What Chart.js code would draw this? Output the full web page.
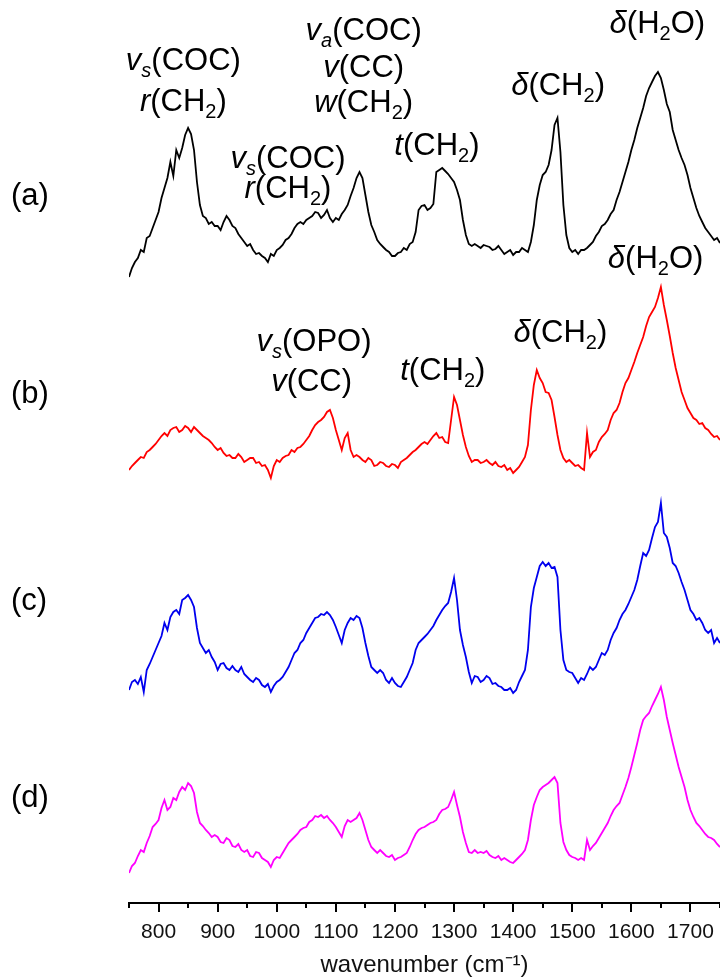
<!DOCTYPE html>
<html>
<head>
<meta charset="utf-8">
<script src="https://cdn.jsdelivr.net/npm/chart.js@4.4.0/dist/chart.umd.min.js"></script>
<style>
  html, body { margin: 0; padding: 0; background: #fff; }
  #wrap { width: 720px; height: 980px; position: relative; }
</style>
</head>
<body>
<div id="wrap"><canvas id="ramanChart"></canvas></div>
<script>
// x sampling of the spectra (cm-1)
const wavenumber = [
  750,755,760,765,770,775,780,785,790,795,800,805,810,815,820,825,830,835,840,845,
  850,855,860,865,870,875,880,885,890,895,900,905,910,915,920,925,930,935,940,945,
  950,955,960,965,970,975,980,985,990,995,1000,1005,1010,1015,1020,1025,1030,1035,1040,1045,
  1050,1055,1060,1065,1070,1075,1080,1085,1090,1095,1100,1105,1110,1115,1120,1125,1130,1135,1140,1145,
  1150,1155,1160,1165,1170,1175,1180,1185,1190,1195,1200,1205,1210,1215,1220,1225,1230,1235,1240,1245,
  1250,1255,1260,1265,1270,1275,1280,1285,1290,1295,1300,1305,1310,1315,1320,1325,1330,1335,1340,1345,
  1350,1355,1360,1365,1370,1375,1380,1385,1390,1395,1400,1405,1410,1415,1420,1425,1430,1435,1440,1445,
  1450,1455,1460,1465,1470,1475,1480,1485,1490,1495,1500,1505,1510,1515,1520,1525,1530,1535,1540,1545,
  1550,1555,1560,1565,1570,1575,1580,1585,1590,1595,1600,1605,1610,1615,1620,1625,1630,1635,1640,1645,
  1650,1655,1660,1665,1670,1675,1680,1685,1690,1695,1700,1705,1710,1715,1720,1725,1730,1735,1740,1745,
  1750
];

// stacked intensities (a.u., offsets already included)
const spectrumA = [
  623,632,638,642,650,648,662,664,672,680, 688,702,712,722,738,724,750,742,752,765,
  772,766,750,718,695,684,682,676,678,674, 674,670,678,684,680,674,672,666,662,658,
  654,656,650,646,647,644,642,638,646,644, 650,652,655,660,662,666,672,676,678,676,
  680,682,684,688,687,682,685,690,682,678, 682,680,686,690,695,704,712,722,728,722,
  705,688,675,668,660,656,653,650,648,644, 644,647,648,652,650,656,658,668,690,694,
  695,690,692,696,728,730,732,729,726,722, 718,710,700,680,665,656,654,656,654,652,
  655,654,653,650,651,654,650,646,648,650, 645,648,648,652,650,648,658,675,700,715,
  725,728,735,750,775,782,748,695,665,652, 648,650,646,650,650,652,655,658,664,668,
  674,676,680,686,690,700,708,718,728,738, 750,760,772,782,792,804,812,818,824,828,
  822,810,796,788,770,760,750,742,735,725, 712,702,692,684,678,672,668,664,660,662,
  657
];
const spectrumB = [
  430,434,437,440,443,442,448,450,453,456, 460,464,467,464,470,472,473,468,470,474,
  472,468,473,470,467,464,462,460,457,453, 450,452,447,444,445,442,442,446,443,438,
  440,442,442,437,438,434,435,430,422,434, 440,438,442,444,445,450,448,452,453,456,
  460,464,470,475,478,480,483,488,490,482, 470,460,450,462,467,450,443,445,443,440,
  438,442,440,434,435,438,437,434,433,436, 435,432,438,440,442,445,448,450,453,456,
  458,456,460,464,467,462,463,458,457,480, 503,495,480,465,453,444,438,440,440,437,
  438,440,437,435,438,434,433,435,430,432, 427,430,433,438,443,455,490,515,530,522,
  517,508,507,500,483,465,450,442,438,440, 437,434,435,432,430,467,443,448,450,458,
  463,466,470,480,487,490,497,508,517,522, 530,538,547,555,563,574,583,588,593,602,
  613,595,580,564,547,532,520,508,500,492, 487,482,480,476,477,472,470,466,463,464,
  460
];
const spectrumC = [
  210,218,220,216,223,208,230,236,243,250, 257,264,277,270,283,288,290,286,300,302,
  305,300,293,272,257,252,247,250,243,238, 230,236,237,232,230,234,230,228,233,226,
  223,220,218,222,220,215,213,216,208,214, 218,220,223,228,233,240,247,250,257,260,
  267,272,277,282,283,286,285,288,285,280, 273,265,257,270,277,282,280,284,282,272,
  257,244,233,230,227,230,227,220,217,222, 217,214,213,218,223,230,237,250,257,260,
  263,266,270,274,280,285,290,294,297,308, 322,300,270,255,243,228,217,224,223,218,
  220,224,222,216,217,214,213,210,210,212, 207,210,218,224,230,250,293,312,323,334,
  338,334,337,332,333,323,270,240,230,228, 227,222,217,222,220,226,233,230,233,240,
  247,245,250,260,267,272,280,286,290,296, 303,310,320,334,347,344,350,362,373,378,
  397,367,363,352,337,334,327,318,310,300, 290,286,280,282,277,270,267,270,257,262,
  257
];
const spectrumD = [
  27,34,37,44,50,48,57,64,73,76, 80,92,100,90,93,102,100,108,113,110,
  117,114,107,88,77,74,70,67,63,65, 63,58,57,62,60,54,53,56,50,48,
  50,44,43,48,47,42,40,38,33,40, 43,42,47,52,57,60,63,66,70,72,
  73,78,80,84,83,85,82,84,80,77, 73,68,63,74,80,78,80,82,87,80,
  70,60,53,50,47,50,47,44,43,45, 40,42,43,45,47,53,60,66,70,72,
  73,75,77,78,80,86,90,91,93,100, 108,95,83,68,57,48,47,50,47,48,
  47,49,45,43,42,44,40,42,40,38, 37,40,43,46,50,60,80,95,103,110,
  113,115,117,120,123,117,77,58,50,45, 43,42,40,42,40,60,50,54,57,62,
  67,72,77,84,90,94,97,105,113,122, 133,145,157,170,180,184,187,194,200,206,
  213,200,183,170,157,145,133,123,113,100, 90,83,77,74,70,66,63,62,60,56,
  53
];

const sampleLabels = ['(a)', '(b)', '(c)', '(d)'];
const sampleLevels = [704, 506, 299, 102];
const lineColors = ['#000000', '#ff0000', '#0000ee', '#ff00ff'];

const tickValues = [750,800,850,900,950,1000,1050,1100,1150,1200,1250,1300,1350,1400,1450,1500,1550,1600,1650,1700,1750];
const labelledTicks = [800,900,1000,1100,1200,1300,1400,1500,1600,1700];

// band assignments: [text, style] where style i = italic, s = subscript
const bandLabels = [
  { x: 842, y: 830, parts: [['v','i'],['s','is'],['(COC)','']] },
  { x: 842, y: 789, parts: [['r','i'],['(CH',''],['2','s'],[')','']] },
  { x: 1019, y: 732, parts: [['v','i'],['s','is'],['(COC)','']] },
  { x: 1019, y: 702, parts: [['r','i'],['(CH',''],['2','s'],[')','']] },
  { x: 1147, y: 860, parts: [['v','i'],['a','is'],['(COC)','']] },
  { x: 1147, y: 823, parts: [['v','i'],['(CC)','']] },
  { x: 1147, y: 788, parts: [['w','i'],['(CH',''],['2','s'],[')','']] },
  { x: 1271, y: 745, parts: [['t','i'],['(CH',''],['2','s'],[')','']] },
  { x: 1476, y: 805, parts: [['δ','i'],['(CH',''],['2','s'],[')','']] },
  { x: 1644, y: 867, parts: [['δ','i'],['(H',''],['2','s'],['O)','']] },
  { x: 1641, y: 632, parts: [['δ','i'],['(H',''],['2','s'],['O)','']] },
  { x: 1063, y: 549, parts: [['v','i'],['s','is'],['(OPO)','']] },
  { x: 1059, y: 509, parts: [['v','i'],['(CC)','']] },
  { x: 1281, y: 520, parts: [['t','i'],['(CH',''],['2','s'],[')','']] },
  { x: 1480, y: 558, parts: [['δ','i'],['(CH',''],['2','s'],[')','']] }
];

const FONT = '"Liberation Sans", Arial, sans-serif';

function toPoints(values) {
    return values.map((v, i) => ({ x: wavenumber[i], y: v }));
}

const annotationPlugin = {
    id: 'annotations',
    afterDraw(chart) {
        const ctx = chart.ctx;
        const xs = chart.scales.x;
        const ys = chart.scales.y;
        const size = 31;
        ctx.save();
        ctx.fillStyle = '#000';
        ctx.textBaseline = 'alphabetic';

        // band labels with italics and subscripts
        bandLabels.forEach(lab => {
            const parts = lab.parts.map(p => {
                const italic = p[1].includes('i');
                const sub = p[1].includes('s');
                const fs = sub ? Math.round(size * 0.66) : size;
                const font = (italic ? 'italic ' : '') + fs + 'px ' + FONT;
                ctx.font = font;
                return { text: p[0], font: font, sub: sub, w: ctx.measureText(p[0]).width };
            });
            const total = parts.reduce((s, p) => s + p.w, 0);
            let px = xs.getPixelForValue(lab.x) - total / 2;
            const py = ys.getPixelForValue(lab.y);
            parts.forEach(p => {
                ctx.font = p.font;
                ctx.fillText(p.text, px, p.sub ? py + 7 : py);
                px += p.w;
            });
        });

        // sample labels on the left
        ctx.font = size + 'px ' + FONT;
        ctx.textBaseline = 'middle';
        sampleLabels.forEach((t, i) => {
            ctx.fillText(t, 11, ys.getPixelForValue(sampleLevels[i]));
        });

        // major / minor tick marks
        const base = chart.chartArea.bottom;
        ctx.strokeStyle = '#000';
        ctx.lineWidth = 2;
        tickValues.forEach(v => {
            const px = Math.round(xs.getPixelForValue(v));
            const len = labelledTicks.includes(v) ? 9 : 5;
            ctx.beginPath();
            ctx.moveTo(px, base);
            ctx.lineTo(px, base + len);
            ctx.stroke();
        });
        ctx.restore();
    }
};

const ramanChart = new Chart(document.getElementById('ramanChart'), {
    type: 'line',
    data: {
        datasets: [spectrumA, spectrumB, spectrumC, spectrumD].map((s, i) => ({
            label: sampleLabels[i],
            data: toPoints(s),
            borderColor: lineColors[i],
            borderWidth: 1.8,
            pointRadius: 0,
            tension: 0,
            fill: false
        }))
    },
    options: {
        responsive: true,
        maintainAspectRatio: false,
        animation: false,
        layout: { padding: { left: 129, right: 0, top: 0, bottom: 0 } },
        plugins: {
            legend: { display: false },
            tooltip: { enabled: false }
        },
        scales: {
            x: {
                type: 'linear',
                min: 750,
                max: 1750,
                afterBuildTicks: (scale) => {
                    scale.ticks = tickValues.map(v => ({ value: v }));
                },
                afterFit: (scale) => {
                    scale.height = 77;
                    // the plot is cut at the right edge, as in the original
                    scale.paddingLeft = 0;
                    scale.paddingRight = 0;
                },
                grid: {
                    display: true,
                    drawOnChartArea: false,
                    drawTicks: true,
                    tickLength: 9,
                    tickColor: 'rgba(0,0,0,0)'
                },
                border: { display: true, color: '#000', width: 2 },
                ticks: {
                    autoSkip: false,
                    maxRotation: 0,
                    padding: 8,
                    color: '#111',
                    font: { family: FONT, size: 21 },
                    callback: (v) => labelledTicks.includes(v) ? String(v) : ''
                },
                title: {
                    display: true,
                    text: 'wavenumber (cm⁻¹)',
                    color: '#111',
                    font: { family: FONT, size: 24 },
                    padding: { top: 0, bottom: 0 }
                }
            },
            y: {
                display: false,
                min: -3,
                max: 900
            }
        }
    },
    plugins: [annotationPlugin]
});
</script>
</body>
</html>
